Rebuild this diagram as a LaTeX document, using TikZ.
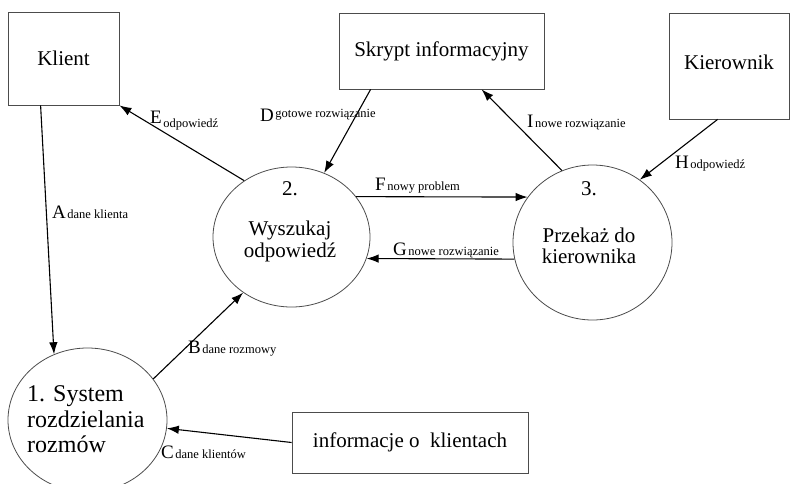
\documentclass[tikz,border=0pt]{standalone}
\usepackage{fontspec}
\setmainfont{Liberation Serif}
\usetikzlibrary{shapes.geometric,arrows.meta,calc}
\tikzstyle{ext} = [draw=black!70, line width=0.8pt, inner sep=0pt, font=\fontsize{21}{21}\selectfont]
\tikzstyle{proc} = [ellipse, draw=black!70, line width=0.8pt, inner sep=0pt]
\tikzstyle{txt} = [inner sep=0pt, anchor=base, font=\fontsize{21}{21}\selectfont]
\tikzstyle{flow} = [black, line width=1.1pt, -{Latex[length=12pt,width=8.5pt]}]
\tikzstyle{lab} = [inner sep=0pt, anchor=base west]
\newcommand{\flowLab}[3][0pt]{{\fontsize{19}{19}\selectfont #2}\hspace{1.5pt}\raisebox{#1}{\fontsize{12.5}{12.5}\selectfont #3}}

\begin{document}
\begin{tikzpicture}[x=1pt,y=-1pt]
  \clip (0,0) rectangle (790,483);
  % external entities
  \node[ext, minimum width=111pt, minimum height=93pt] (klient) at (63.5,58.5) {Klient};
  \node[ext, minimum width=205pt, minimum height=76pt] (skrypt) at (441.5,51) {Skrypt informacyjny};
  \node[ext, minimum width=120pt, minimum height=106pt] (kier) at (729,66) {\raisebox{8pt}{Kierownik}};
  \node[ext, minimum width=236pt, minimum height=61pt] (info) at (410,442.5) {informacje o\ \ klientach};

  % processes
  \node[proc, minimum width=159pt, minimum height=144pt] (p1) at (87.5,420) {};
  \node[proc, minimum width=157pt, minimum height=140pt] (p2) at (291.5,237) {};
  \node[proc, minimum width=159pt, minimum height=155pt] (p3) at (592.5,242.5) {};
  \foreach \t/\y [count=\i] in {1. System/401, rozdzielania/427, rozmów/452}
    \node[txt, anchor=base west, font=\fontsize{24}{24}\selectfont] (p1t\i) at (27,\y) {\t};
  \foreach \t/\y [count=\i] in {2./195, Wyszukaj/235, odpowiedź/257}
    \node[txt] (p2t\i) at (290,\y) {\t};
  \foreach \t/\y [count=\i] in {3./195, Przekaż do/242, kierownika/263}
    \node[txt] (p3t\i) at (589,\y) {\t};

  % data flows
  \draw[flow] ($(klient.south west)+(33,0)$) -- (p1.117);
  \draw[flow] (p1.32) -- (p2.229);
  \draw[flow] (info.west) -- (p1.-6);
  \draw[flow] ($(skrypt.south west)+(32,0)$) -- (p2.63);
  \draw[flow] (p2.130) -- (klient.south east);
  \draw[flow] (p2.32) -- (p3.145);
  \draw[flow] (p3.192) -- (p2.-16);
  \draw[flow] ($(kier.south west)+(49,0)$) -- (p3.53);
  \draw[flow] (p3.113) -- ($(skrypt.south west)+(143,0)$);

  % flow labels
  \node[lab] (labA) at (52,218) {\flowLab{A}{dane klienta}};
  \node[lab] (labB) at (188,353) {\flowLab{B}{dane rozmowy}};
  \node[lab] (labC) at (161,458) {\flowLab{C}{dane klientów}};
  \node[lab] (labD) at (260,121) {\flowLab[4pt]{D}{gotowe rozwiązanie}};
  \node[lab] (labE) at (150,123) {\flowLab[-4pt]{E}{odpowiedź}};
  \node[lab] (labF) at (375,190) {\flowLab{F}{nowy problem}};
  \node[lab] (labG) at (393,255) {\flowLab{G}{nowe rozwiązanie}};
  \node[lab] (labH) at (675,168) {\flowLab{H}{odpowiedź}};
  \node[lab] (labI) at (527,127) {\flowLab{I}{nowe rozwiązanie}};
\end{tikzpicture}
\end{document}
